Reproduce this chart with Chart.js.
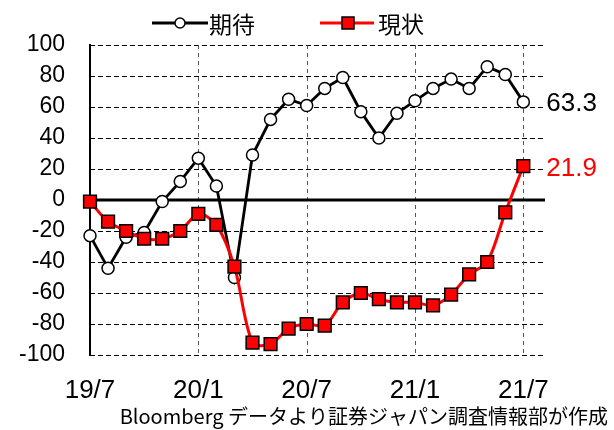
<!DOCTYPE html>
<html><head><meta charset="utf-8">
<script src="https://cdn.jsdelivr.net/npm/chart.js@4.4.1/dist/chart.umd.min.js"></script>
<style>html,body{margin:0;padding:0;background:#fff}#wrap{width:614px;height:430px}</style>
</head><body><div id="wrap"><canvas id="c" width="614" height="430"></canvas></div>
<script>
// ---- data ----
const categories = ['19/7','19/8','19/9','19/10','19/11','19/12','20/1','20/2','20/3','20/4','20/5','20/6',
  '20/7','20/8','20/9','20/10','20/11','20/12','21/1','21/2','21/3','21/4','21/5','21/6','21/7'];
const tickLabels = ['19/7','20/1','20/7','21/1','21/7'];
const seriesNames = ['期待','現状'];
const expectation = [-23,-44,-24,-21,-1,12,27,9,-50,29,52,65,61,72,79,57,40,56,64,72,78,72,86,81,63.3];
const current = [-1,-14,-20,-25,-25,-20,-9,-16,-43,-92,-93,-83,-80,-81,-66,-60,-64,-66,-66,-68,-61,-48,-40,-8,21.9];
const sourceNote = 'Bloomberg データより証券ジャパン調査情報部が作成';

const JP = '"Noto Sans CJK JP", sans-serif';
const LAT = '"Liberation Sans", Arial, sans-serif';

const decor = {
  id: 'decor',
  beforeDatasetsDraw(chart) {
    const {ctx, chartArea: a, scales: {x, y}} = chart;
    ctx.save();
    ctx.lineWidth = 1;
    // horizontal dashed grid
    ctx.strokeStyle = '#000';
    ctx.setLineDash([5, 3]);
    y.ticks.forEach(t => {
      if (t.value === 0) return;
      const py = Math.round(y.getPixelForValue(t.value)) + 0.5;
      ctx.beginPath(); ctx.moveTo(a.left, py); ctx.lineTo(a.right, py); ctx.stroke();
    });
    // vertical dashed grid
    ctx.strokeStyle = '#555';
    ctx.setLineDash([4, 4]);
    x.ticks.forEach(t => {
      if (t.value === 0) return;
      const px = Math.round(x.getPixelForValue(t.value)) + 0.5;
      ctx.beginPath(); ctx.moveTo(px, a.top); ctx.lineTo(px, a.bottom); ctx.stroke();
    });
    // zero line
    ctx.setLineDash([]);
    ctx.strokeStyle = '#000';
    ctx.lineWidth = 3;
    const z = y.getPixelForValue(0);
    ctx.beginPath(); ctx.moveTo(a.left, z); ctx.lineTo(a.right, z); ctx.stroke();
    ctx.restore();
  },
  afterDatasetsDraw(chart) {
    const {ctx, scales: {x, y}} = chart;
    ctx.save();
    // end labels
    ctx.font = '26px ' + LAT;
    ctx.textAlign = 'left';
    ctx.textBaseline = 'middle';
    const last = categories.length - 1;
    ctx.fillStyle = '#000';
    ctx.fillText(String(expectation[last]), x.getPixelForValue(last) + 23, y.getPixelForValue(expectation[last]) + 2);
    ctx.fillStyle = '#ff0000';
    ctx.fillText(String(current[last]), x.getPixelForValue(last) + 23, y.getPixelForValue(current[last]) + 3);
    // legend
    const ly = 23;
    ctx.lineWidth = 3;
    ctx.strokeStyle = '#000';
    ctx.beginPath(); ctx.moveTo(152, ly); ctx.lineTo(208, ly); ctx.stroke();
    ctx.lineWidth = 1.5;
    ctx.fillStyle = '#fff';
    ctx.beginPath(); ctx.arc(180, ly, 5, 0, Math.PI * 2); ctx.fill(); ctx.stroke();
    ctx.strokeStyle = '#ff0000';
    ctx.lineWidth = 3;
    ctx.beginPath(); ctx.moveTo(320, ly); ctx.lineTo(374, ly); ctx.stroke();
    ctx.fillStyle = '#ff0000';
    ctx.strokeStyle = '#000';
    ctx.lineWidth = 1.5;
    ctx.fillRect(342, ly - 6, 12, 12); ctx.strokeRect(342, ly - 6, 12, 12);
    ctx.fillStyle = '#000';
    ctx.font = '23px ' + JP;
    ctx.textBaseline = 'middle';
    ctx.fillText(seriesNames[0], 209, ly + 1);
    ctx.fillText(seriesNames[1], 378, ly + 1);
    // source note
    ctx.font = '20px ' + JP;
    ctx.textAlign = 'right';
    ctx.fillText(sourceNote, 608, 416);
    ctx.restore();
  }
};

new Chart(document.getElementById('c'), {
  type: 'line',
  data: {
    datasets: [
      {
        label: seriesNames[0],
        data: expectation.map((v, i) => ({x: i, y: v})),
        borderColor: '#000', borderWidth: 2.8,
        pointStyle: 'circle', pointRadius: 6, pointBackgroundColor: '#fff',
        pointBorderColor: '#000', pointBorderWidth: 1.5,
        tension: 0, order: 2, clip: false
      },
      {
        label: seriesNames[1],
        data: current.map((v, i) => ({x: i, y: v})),
        borderColor: '#ff0000', borderWidth: 3,
        pointStyle: 'rect', pointRadius: 9, pointBackgroundColor: '#ff0000',
        pointBorderColor: '#000', pointBorderWidth: 1.5,
        tension: 0.3, order: 1, clip: false
      }
    ]
  },
  options: {
    responsive: false, animation: false,
    layout: {padding: {left: 0, right: 69, top: 45, bottom: 0}},
    plugins: {legend: {display: false}, tooltip: {enabled: false}},
    scales: {
      x: {
        type: 'linear', min: 0, max: 25.2,
        grid: {display: false},
        border: {display: false},
        afterBuildTicks: s => { s.ticks = tickLabels.map(l => ({value: categories.indexOf(l)})); },
        afterFit: s => { s.height = 75; },
        ticks: {
          autoSkip: false, maxRotation: 0, padding: 12,
          color: '#000', font: {family: LAT, size: 26},
          callback: v => categories[v]
        }
      },
      y: {
        min: -100, max: 100,
        grid: {display: false},
        border: {display: true, color: '#000', width: 2},
        afterFit: s => { s.width = 90; },
        ticks: {stepSize: 20, padding: 17, color: '#000', font: {family: LAT, size: 23}}
      }
    }
  },
  plugins: [decor]
});
</script></body></html>
